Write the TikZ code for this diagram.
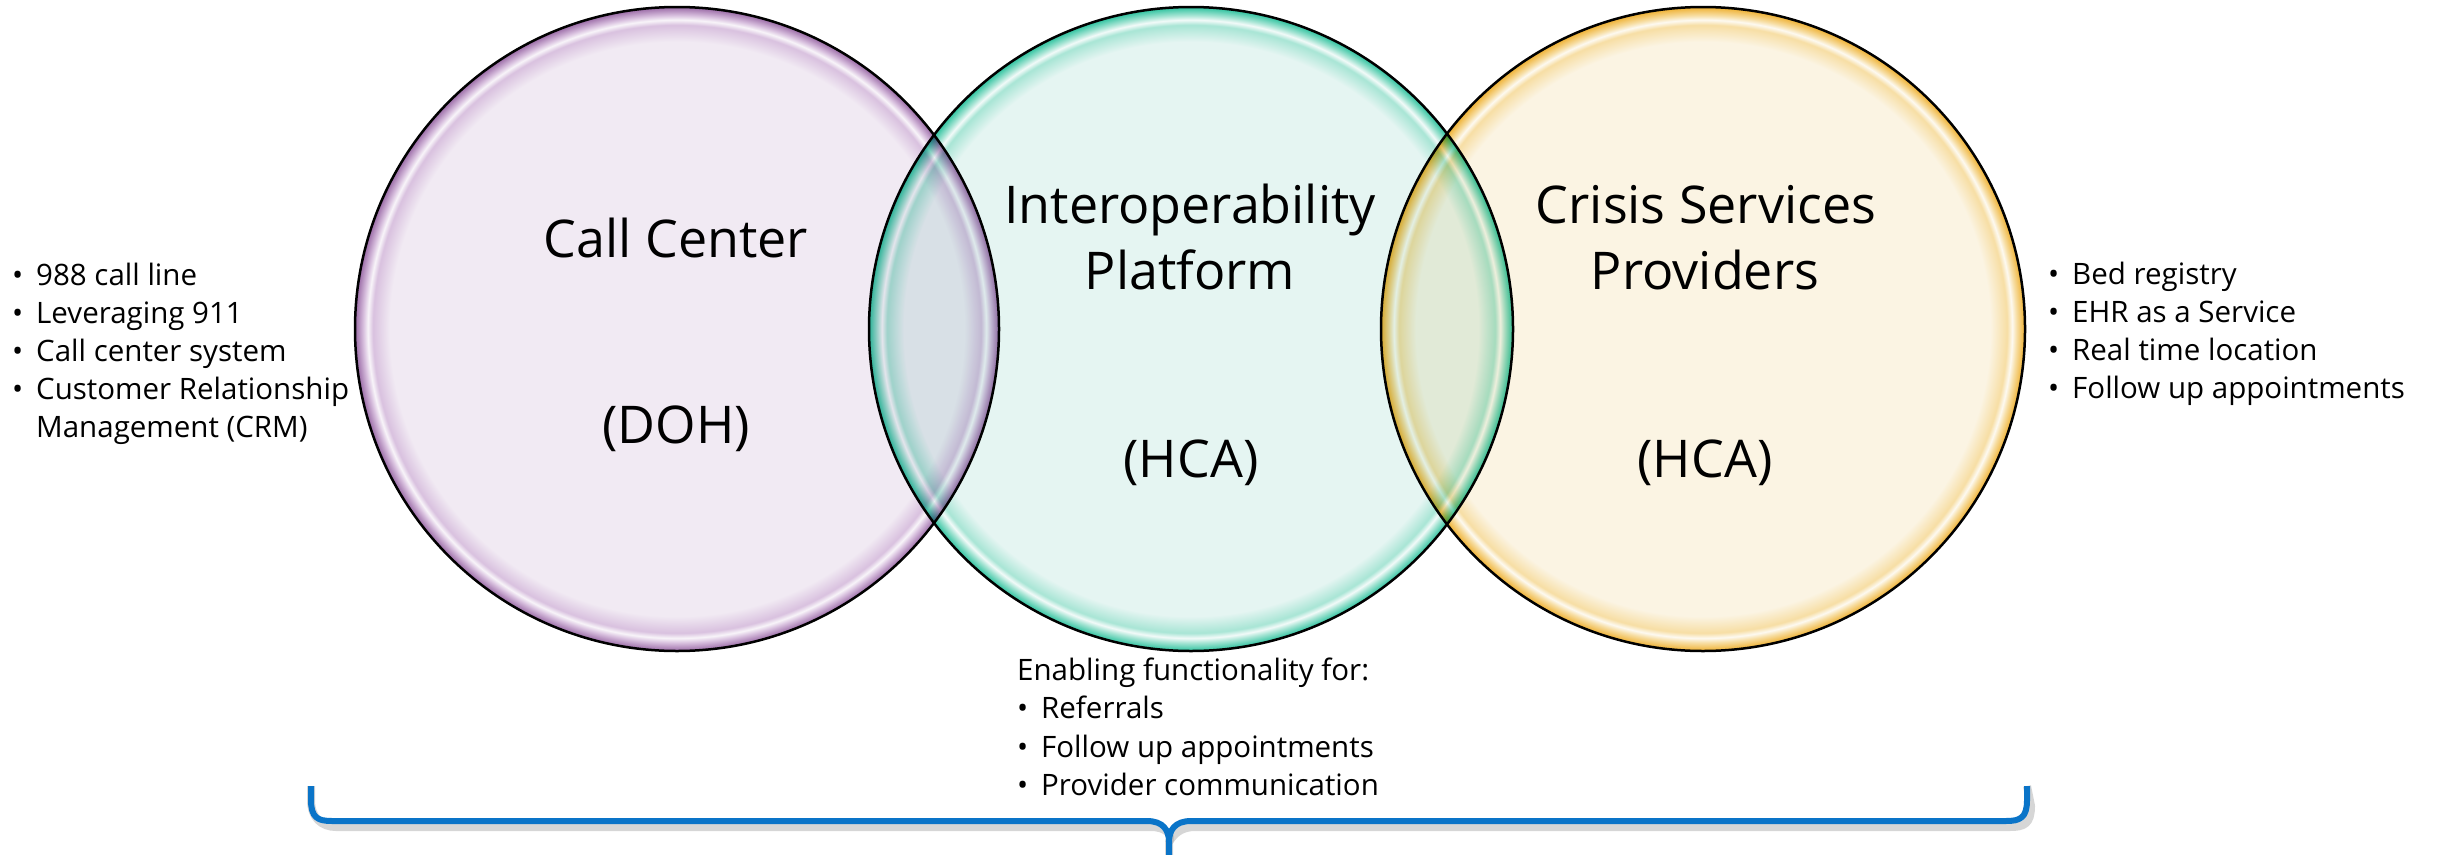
\documentclass[tikz,border=0pt]{standalone}
\usepackage{fontspec}
\setmainfont{Open Sans}
\definecolor{pIn}{HTML}{F1EAF3}
\definecolor{pMid}{HTML}{D9C1DF}
\definecolor{pRim}{HTML}{9A6AA6}
\definecolor{tIn}{HTML}{E5F5F2}
\definecolor{tMid}{HTML}{A8E5D5}
\definecolor{tRim}{HTML}{2CC29E}
\definecolor{oIn}{HTML}{FBF4E3}
\definecolor{oMid}{HTML}{F7DEA4}
\definecolor{oRim}{HTML}{EFB030}
\definecolor{bracketblue}{HTML}{0A74C8}
\pgfdeclareradialshading{glassP}{\pgfpoint{0bp}{0bp}}{color(0bp)=(pIn); color(22.3bp)=(pIn); color(23.6bp)=(pMid); color(24bp)=(pIn!50!white); color(24.35bp)=(pMid); color(25bp)=(pRim); color(50bp)=(pRim)}
\pgfdeclareradialshading{glassT}{\pgfpoint{0bp}{0bp}}{color(0bp)=(tIn); color(22.3bp)=(tIn); color(23.6bp)=(tMid); color(24bp)=(tIn!50!white); color(24.35bp)=(tMid); color(25bp)=(tRim); color(50bp)=(tRim)}
\pgfdeclareradialshading{glassO}{\pgfpoint{0bp}{0bp}}{color(0bp)=(oIn); color(22.3bp)=(oIn); color(23.6bp)=(oMid); color(24bp)=(oIn!50!white); color(24.35bp)=(oMid); color(25bp)=(oRim); color(50bp)=(oRim)}
\tikzset{
  title/.style={font=\fontsize{52}{66}\selectfont, align=center, inner sep=0pt, anchor=base},
  item/.style={font=\fontsize{29.5}{38}\selectfont, inner sep=0pt, anchor=base west},
  rimline/.style={draw=black, line width=2.5pt},
  bracket/.style={draw=bracketblue, line width=6pt, line join=round},
  bracketshadow/.style={draw=black!35, line width=8pt, opacity=0.45, line join=round},
}
\newcommand{\bul}{\makebox[24pt][l]{•}}
\begin{document}
\begin{tikzpicture}[x=1pt, y=-1pt]
\useasboundingbox (0,0) rectangle (2438,854);
\fill[white] (0,0) rectangle (2438,854);
\coordinate (cL) at (677,329);
\coordinate (cM) at (1191,329);
\coordinate (cR) at (1703,329);
% circles
\shade[shading=glassP] (cL) circle[radius=322pt];
\shade[shading=glassT, blend mode=multiply] (cM) circle[radius=322pt];
\shade[shading=glassO, blend mode=multiply] (cR) circle[radius=322pt];
\draw[rimline] (cL) circle[radius=322pt];
\draw[rimline] (cM) circle[radius=322pt];
\draw[rimline] (cR) circle[radius=322pt];
% titles
\node[title] (tcc) at (676,257) {Call Center};
\node[title] (tdoh) at (676,443) {(DOH)};
\node[title] (tio) at (1190,223) {Interoperability};
\node[title] (tpl) at (1190,289) {Platform};
\node[title] (thca1) at (1191,477) {(HCA)};
\node[title] (tcs) at (1706,223) {Crisis Services};
\node[title] (tpr) at (1705,289) {Providers};
\node[title] (thca2) at (1705,477) {(HCA)};
% left list
\node[item] (l1) at (12,285) {\bul 988 call line};
\node[item] (l2) at (12,323) {\bul Leveraging 911};
\node[item] (l3) at (12,361) {\bul Call center system};
\node[item] (l4) at (12,399) {\bul Customer Relationship};
\node[item] (l5) at (12,437) {\hspace*{24pt}Management (CRM)};
% right list
\node[item] (r1) at (2048,284) {\bul Bed registry};
\node[item] (r2) at (2048,322) {\bul EHR as a Service};
\node[item] (r3) at (2048,360) {\bul Real time location};
\node[item] (r4) at (2048,398) {\bul Follow up appointments};
% bottom list
\node[item] (b0) at (1017,680) {Enabling functionality for:};
\node[item] (b1) at (1017,718) {\bul Referrals};
\node[item] (b2) at (1017,757) {\bul Follow up appointments};
\node[item] (b3) at (1017,795) {\bul Provider communication};
% bracket
\coordinate (bL) at (311,786);
\coordinate (bR) at (2027,786);
\coordinate (bT) at (1169,842);
\coordinate (bE) at (1169,858);
\begin{scope}[shift={(4,6)}]
\draw[bracketshadow] (bL) -- ++(0,14) .. controls ++(0,18) and ++(-14,0) .. (332,821) -- (1147,821) .. controls (1163,821) and (1169,830) .. (bT) -- (bE);
\draw[bracketshadow] (bT) .. controls (1169,830) and (1175,821) .. (1191,821) -- (2006,821) .. controls ++(14,0) and ++(0,18) .. (2027,800) -- (bR);
\end{scope}
\draw[bracket] (bL) -- ++(0,14) .. controls ++(0,18) and ++(-14,0) .. (332,821) -- (1147,821) .. controls (1163,821) and (1169,830) .. (bT) -- (bE);
\draw[bracket] (bT) .. controls (1169,830) and (1175,821) .. (1191,821) -- (2006,821) .. controls ++(14,0) and ++(0,18) .. (2027,800) -- (bR);
\end{tikzpicture}
\end{document}
